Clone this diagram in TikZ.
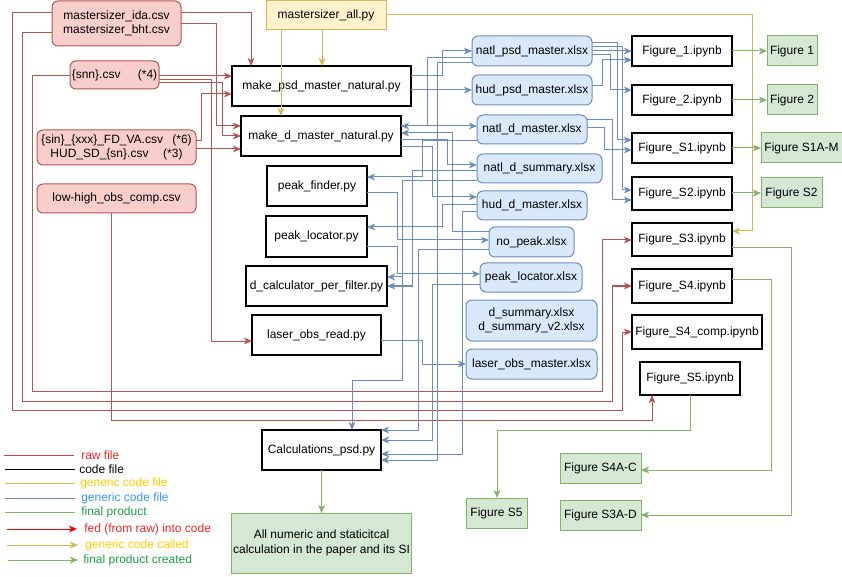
\documentclass[tikz,border=0pt]{standalone}
\usepackage{fontspec}
\setmainfont{Liberation Sans}
\usetikzlibrary{arrows.meta}

\definecolor{rawfill}{HTML}{F8CECC}
\definecolor{rawline}{HTML}{B85450}
\definecolor{genfill}{HTML}{FFF2CC}
\definecolor{genline}{HTML}{D6B656}
\definecolor{datafill}{HTML}{DAE8FC}
\definecolor{dataline}{HTML}{6C8EBF}
\definecolor{figfill}{HTML}{D5E8D4}
\definecolor{figline}{HTML}{82B366}
\definecolor{legred}{HTML}{F02828}
\definecolor{legredline}{HTML}{E23A3A}
\definecolor{legyellow}{HTML}{FFCC00}
\definecolor{legblue}{HTML}{3399FF}
\definecolor{leggreen}{HTML}{1E9E4A}

% box from its corner coordinates: name, style, x1, y1, x2, y2, text
\newcommand\bx[7]{\node[#2,minimum width={(#5-#3)*0.75pt},minimum height={(#6-#4)*0.75pt}] (#1) at ({(#3+#5)/2},{(#4+#6)/2}) {#7};}

\begin{document}
\begin{tikzpicture}[x=0.75pt,y=-0.75pt,
  font=\fontsize{9}{10.8}\selectfont,
  >={Stealth[length=6pt,width=5pt,inset=1.6pt]},
  box/.style={draw,rectangle,inner sep=1pt,outer sep=0pt,align=center,line width=0.75pt},
  raw/.style={box,rounded corners=4.5pt,fill=rawfill,draw=rawline},
  gen/.style={box,fill=genfill,draw=genline},
  code/.style={box,fill=white,draw=black,line width=0.9pt},
  data/.style={box,rounded corners=4.5pt,fill=datafill,draw=dataline},
  fig/.style={box,fill=figfill,draw=figline},
  rawedge/.style={draw=rawline,line width=0.75pt,->},
  genedge/.style={draw=genline,line width=0.75pt,->},
  dataedge/.style={draw=dataline,line width=0.75pt,->},
  figedge/.style={draw=figline,line width=0.75pt,->},
  legtext/.style={anchor=west,inner sep=0pt}]

\useasboundingbox[fill=white] (0,0) rectangle (842,577);

% raw input files
\bx{masters}{raw}{52}{1}{181}{46}{mastersizer\_ida.csv\\mastersizer\_bht.csv}
\bx{snn}{raw}{70}{61}{159}{89}{\{snn\}.csv\hspace{13pt}(*4)}
\bx{sin}{raw}{37}{130}{196}{165}{\{sin\}\_\{xxx\}\_FD\_VA.csv\hspace{7pt}(*6)\\HUD\_SD\_\{sn\}.csv\hspace{11pt}(*3)}
\bx{lowhigh}{raw}{37}{184}{196}{213}{low-high\_obs\_comp.csv}

% generic code
\bx{mall}{gen}{266}{1}{386}{30}{mastersizer\_all.py}

% code files
\bx{mpsd}{code}{232}{66}{411}{106}{make\_psd\_master\_natural.py}
\bx{md}{code}{241}{116}{401}{156}{make\_d\_master\_natural.py}
\bx{pfind}{code}{267}{166}{367}{206}{peak\_finder.py}
\bx{ploc}{code}{266}{216}{367}{257}{peak\_locator.py}
\bx{dcalc}{code}{246}{266}{387}{306}{d\_calculator\_per\_filter.py}
\bx{lread}{code}{252}{315}{381}{355}{laser\_obs\_read.py}
\bx{calc}{code}{262}{430}{381}{470}{Calculations\_psd.py}

% data files
\bx{nps}{data}{472}{36}{592}{66}{natl\_psd\_master.xlsx}
\bx{hps}{data}{472}{75}{592}{105}{hud\_psd\_master.xlsx}
\bx{ndm}{data}{477}{115}{587}{144}{natl\_d\_master.xlsx}
\bx{nds}{data}{477}{154}{602}{183}{natl\_d\_summary.xlsx}
\bx{hdm}{data}{477}{191}{587}{220}{hud\_d\_master.xlsx}
\bx{nopk}{data}{489}{227}{574}{257}{no\_peak.xlsx}
\bx{plx}{data}{480}{263}{582}{292}{peak\_locator.xlsx}
\bx{dsum}{data}{466}{300}{597}{341}{d\_summary.xlsx\\d\_summary\_v2.xlsx}
\bx{lom}{data}{466}{349}{597}{379}{laser\_obs\_master.xlsx}

% notebooks
\bx{f1nb}{code}{632}{36}{732}{66}{Figure\_1.ipynb}
\bx{f2nb}{code}{632}{85}{732}{115}{Figure\_2.ipynb}
\bx{s1nb}{code}{632}{133}{732}{163}{Figure\_S1.ipynb}
\bx{s2nb}{code}{632}{177}{732}{210}{Figure\_S2.ipynb}
\bx{s3nb}{code}{632}{223}{732}{256}{Figure\_S3.ipynb}
\bx{s4nb}{code}{632}{269}{732}{303}{Figure\_S4.ipynb}
\bx{s4cnb}{code}{632}{315}{762}{349}{Figure\_S4\_comp.ipynb}
\bx{s5nb}{code}{640}{362}{740}{395}{Figure\_S5.ipynb}

% final products
\bx{fig1}{fig}{767}{36}{817}{66}{Figure 1}
\bx{fig2}{fig}{767}{85}{817}{115}{Figure 2}
\bx{figSa}{fig}{761}{133}{842}{163}{Figure S1A-M}
\bx{figSb}{fig}{761}{178}{822}{208}{Figure S2}
\bx{figSd}{fig}{560}{453}{641}{483}{Figure S4A-C}
\bx{figSc}{fig}{560}{500}{641}{530}{Figure S3A-D}
\bx{figSe}{fig}{466}{498}{527}{528}{Figure S5}
\bx{allnum}{fig}{232}{513}{411}{573}{All numeric and staticitcal\\calculation in the paper and its SI}

% raw files fed into code
\draw[rawedge] (masters.east |- 0,13) -| (mpsd.north -| 251,0);
\draw[rawedge] (masters.east |- 0,24) -| (216,126) -- (md.west |- 0,126);
\draw[rawedge] (snn.east |- 0,76) -- (mpsd.west |- 0,76);
\draw[rawedge] (snn.east |- 0,80) -| (211,341) -- (lread.west |- 0,341);
\draw[rawedge] (snn.east |- 0,83) -| (222,136) -- (md.west |- 0,136);
\draw[rawedge] (sin.east |- 0,141) -| (201,94) -- (mpsd.west |- 0,94);
\draw[rawedge] (sin.east |- 0,149) -- (md.west |- 0,149);
\draw[rawedge] (masters.west |- 0,13) -| (12,410) -| (622,332) -- (s4cnb.west |- 0,332);
\draw[rawedge] (masters.west |- 0,33) -| (22,401) -| (612,286) -- (s4nb.west |- 0,286);
\draw[rawedge] (snn.west |- 0,76) -| (32,391) -| (602,240) -- (s3nb.west |- 0,240);
\draw[rawedge] (lowhigh.south -| 111,0) |- (652,420) -- (s5nb.south -| 652,0);

% generic code called
\draw[genedge] (mall.south -| 322,0) -- (mpsd.north -| 322,0);
\draw[genedge] (mall.east |- 0,15) -| (752,231) -- (s3nb.east |- 0,231);

% data flow between code and spreadsheets
\draw[dataedge] (mpsd.east |- 0,76) -| (442,51) -- (nps.west |- 0,51);
\draw[dataedge] (mpsd.east |- 0,90) -- (hps.west |- 0,90);
\draw[dataedge] (nps.west |- 0,58) -| (427,126) -- (md.east |- 0,126);
\draw[dataedge] (md.east |- 0,126) -- (ndm.west |- 0,126);
\draw[dataedge] (nopk.west |- 0,232) -| (452,133) -- (md.east |- 0,133);
\draw[dataedge] (md.east |- 0,140) -| (447,165) -- (nds.west |- 0,165);
\draw[dataedge] (md.east |- 0,147) -| (432,197) -- (hdm.west |- 0,197);
\draw[dataedge] (ndm.west |- 0,141) -| (422,177) -- (pfind.east |- 0,177);
\draw[dataedge] (hdm.west |- 0,205) -| (442,227) -- (ploc.east |- 0,227);
\draw[dataedge] (pfind.east |- 0,193) -| (397,240) -- (nopk.west |- 0,240);
\draw[dataedge] (ploc.east |- 0,247) -| (397,274) -- (plx.west |- 0,274);
\draw[dataedge] (nds.west |- 0,181) -| (402,277) -- (dcalc.east |- 0,277);
\draw[dataedge] (nds.west |- 0,171) -| (412,286) -- (dcalc.east |- 0,286);
\draw[dataedge] (nds.west |- 0,181) -| (402,380) -| (calc.north -| 352,0);
\draw[dataedge] (nopk.west |- 0,250) -| (418,430) -- (calc.east |- 0,430);
\draw[dataedge] (plx.west |- 0,285) -| (432,440) -- (calc.east |- 0,440);
\draw[dataedge] (hdm.west |- 0,212) -| (462,454) -- (calc.east |- 0,454);
\draw[dataedge] (nps.west |- 0,63) -| (437,460) -- (calc.east |- 0,460);
\draw[dataedge] (lread.east |- 0,340) -| (422,364) -- (lom.west |- 0,364);

% spreadsheets read by notebooks
\draw[dataedge] (nps.east |- 0,51) -- (f1nb.west |- 0,51);
\draw[dataedge] (hps.east |- 0,86) -| (602,60) -- (f1nb.west |- 0,60);
\draw[dataedge] (nps.east |- 0,55) -| (610,90) -- (f2nb.west |- 0,90);
\draw[dataedge] (nps.east |- 0,43) -| (617,140) -- (s1nb.west |- 0,140);
\draw[dataedge] (nps.east |- 0,47) -| (622,190) -- (s2nb.west |- 0,190);
\draw[dataedge] (ndm.east |- 0,128) -| (604,150) -- (s1nb.west |- 0,150);
\draw[dataedge] (ndm.east |- 0,120) -| (612,200) -- (s2nb.west |- 0,200);

% generic code over the code boxes
\draw[genedge] (mall.south -| 281,0) -- (md.north -| 281,0);

% final products created
\draw[figedge] (f1nb.east) -- (fig1.west);
\draw[figedge] (f2nb.east) -- (fig2.west);
\draw[figedge] (s1nb.east) -- (figSa.west);
\draw[figedge] (s2nb.east |- 0,193) -- (figSb.west |- 0,193);
\draw[figedge] (s3nb.east |- 0,248) -| (791,515) -- (figSc.east |- 0,515);
\draw[figedge] (s4nb.east |- 0,280) -| (771,470) -- (figSd.east |- 0,470);
\draw[figedge] (s5nb.south -| 690,0) |- (497,430) -- (figSe.north -| 497,0);
\draw[figedge] (calc.south) -- (allnum.north);

% legend
\node[legtext,text=legred] (lg1) at (81,455) {raw file};
\node[legtext,text=black] (lg2) at (79,469) {code file};
\node[legtext,text=legyellow] (lg3) at (80,483) {generic code file};
\node[legtext,text=legblue] (lg4) at (81,498) {generic code file};
\node[legtext,text=leggreen] (lg5) at (81,512) {final product};
\node[legtext,text=legred] (lg6) at (84,529) {fed (from raw) into code};
\node[legtext,text=legyellow] (lg7) at (85,545) {generic code called};
\node[legtext,text=leggreen] (lg8) at (83,560) {final product created};
\draw[draw=legredline,line width=0.75pt] (4,455) -- (74,455);
\draw[draw=black,line width=0.75pt] (5,469) -- (75,469);
\draw[draw=genline,line width=0.75pt] (5,483) -- (75,483);
\draw[draw=dataline,line width=0.75pt] (5,498) -- (75,498);
\draw[draw=figline,line width=0.75pt] (5,512) -- (75,512);
\draw[draw=red,line width=0.75pt,->] (7,529) -- (77,529);
\draw[draw=genline,line width=0.75pt,->] (7,545) -- (78,545);
\draw[draw=figline,line width=0.75pt,->] (8,560) -- (78,560);
\end{tikzpicture}
\end{document}
